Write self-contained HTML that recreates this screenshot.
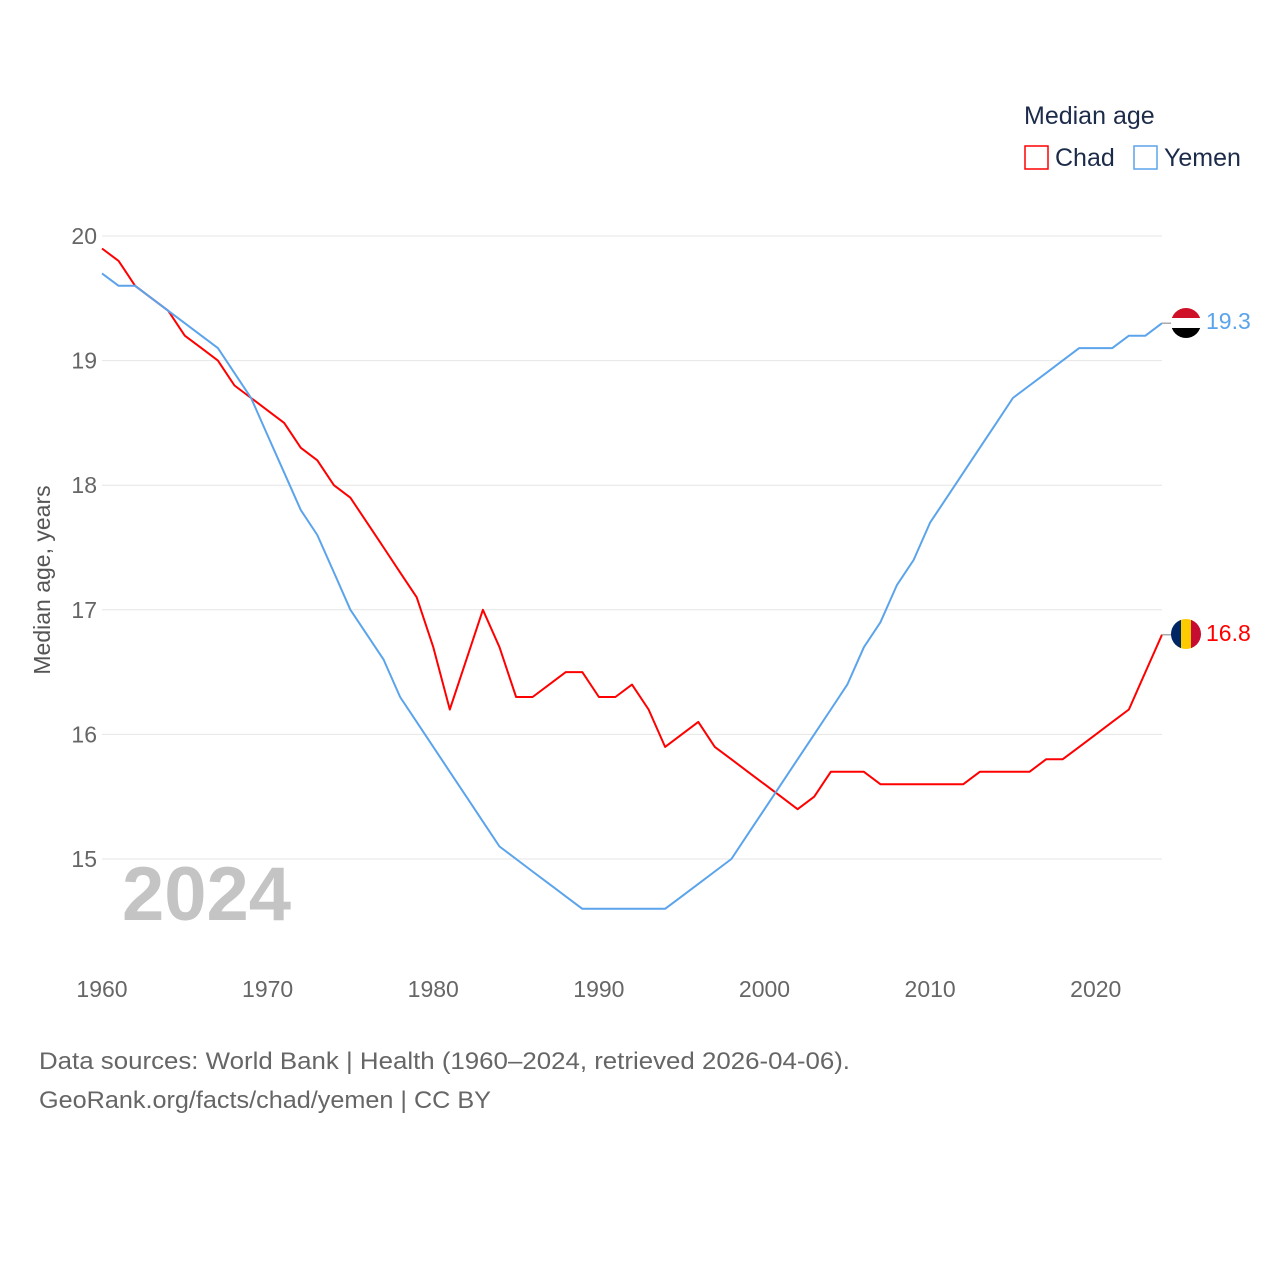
<!DOCTYPE html>
<html><head><meta charset="utf-8"><style>
body{margin:0;background:#fff;font-family:"Liberation Sans",sans-serif}
svg text{font-family:"Liberation Sans",sans-serif}
</style></head><body>
<svg width="1280" height="1280">
<g id="grid"></g>
<g id="axes"></g>
<text x="122" y="920" font-size="76" font-weight="bold" fill="#c4c4c4">2024</text>
<text transform="translate(50,580) rotate(-90)" text-anchor="middle" font-size="23" fill="#555">Median age, years</text>
<g id="lines"></g>
<g>
<text x="1024" y="124" font-size="25" fill="#1d2b4a">Median age</text>
<g><rect x="1025" y="146" width="23" height="23" fill="none" stroke="#f00" stroke-width="1.5"/><text x="1055" y="166" font-size="25" fill="#1d2b4a">Chad</text></g>
<g><rect x="1134" y="146" width="23" height="23" fill="none" stroke="#5ba4ec" stroke-width="1.5"/><text x="1164" y="166" font-size="25" fill="#1d2b4a">Yemen</text></g>
</g>
<defs>
<clipPath id="c1"><circle cx="1186" cy="323" r="15"/></clipPath>
<clipPath id="c2"><circle cx="1186" cy="634" r="15"/></clipPath>
</defs>
<g clip-path="url(#c1)"><rect x="1171" y="308" width="30" height="10" fill="#ce1126"/><rect x="1171" y="318" width="30" height="10" fill="#fff"/><rect x="1171" y="328" width="30" height="10" fill="#000"/></g>
<g clip-path="url(#c2)"><rect x="1171" y="619" width="10" height="30" fill="#002664"/><rect x="1181" y="619" width="10" height="30" fill="#fecb00"/><rect x="1191" y="619" width="10" height="30" fill="#c60c30"/></g>
<text x="1206" y="329" font-size="23" fill="#5ba4ec">19.3</text>
<text x="1206" y="641" font-size="23" fill="#f00">16.8</text>
<text x="39" y="1069" font-size="24" fill="#666" textLength="811" lengthAdjust="spacingAndGlyphs">Data sources: World Bank | Health (1960–2024, retrieved 2026-04-06).</text>
<text x="39" y="1108" font-size="24" fill="#666" textLength="452" lengthAdjust="spacingAndGlyphs">GeoRank.org/facts/chad/yemen | CC BY</text>
</svg>
<script>
const years=[];for(let y=1960;y<=2024;y++)years.push(y);
const chad=[19.9,19.8,19.6,19.5,19.4,19.2,19.1,19.0,18.8,18.7,18.6,18.5,18.3,18.2,18.0,17.9,17.7,17.5,17.3,17.1,16.7,16.2,16.6,17.0,16.7,16.3,16.3,16.4,16.5,16.5,16.3,16.3,16.4,16.2,15.9,16.0,16.1,15.9,15.8,15.7,15.6,15.5,15.4,15.5,15.7,15.7,15.7,15.6,15.6,15.6,15.6,15.6,15.6,15.7,15.7,15.7,15.7,15.8,15.8,15.9,16.0,16.1,16.2,16.5,16.8];
const yemen=[19.7,19.6,19.6,19.5,19.4,19.3,19.2,19.1,18.9,18.7,18.4,18.1,17.8,17.6,17.3,17.0,16.8,16.6,16.3,16.1,15.9,15.7,15.5,15.3,15.1,15.0,14.9,14.8,14.7,14.6,14.6,14.6,14.6,14.6,14.6,14.7,14.8,14.9,15.0,15.2,15.4,15.6,15.8,16.0,16.2,16.4,16.7,16.9,17.2,17.4,17.7,17.9,18.1,18.3,18.5,18.7,18.8,18.9,19.0,19.1,19.1,19.1,19.2,19.2,19.3];
const yTicks=[15,16,17,18,19,20];
const xTicks=[1960,1970,1980,1990,2000,2010,2020];
const X=y=>102+(y-1960)*(1162-102)/64;
const Y=v=>859-(v-15)*(859-236)/5;
const NS="http://www.w3.org/2000/svg";
function mk(t,a,p){const e=document.createElementNS(NS,t);for(const k in a)e.setAttribute(k,a[k]);p.appendChild(e);return e;}
const grid=document.getElementById('grid'),axes=document.getElementById('axes'),lines=document.getElementById('lines');
yTicks.forEach(v=>{
const l=mk('line',{x1:102,x2:1162,y1:Y(v),y2:Y(v),stroke:'#e6e6e6','stroke-width':1},grid);


const t=mk('text',{x:97,y:Y(v)+8,'text-anchor':'end','font-size':23,fill:'#666'},axes);t.textContent=v;


});
xTicks.forEach(y=>{
const t=mk('text',{x:X(y),y:997,'text-anchor':'middle','font-size':23,fill:'#666'},axes);t.textContent=y;


});
function line(d,c,n){
const p=mk('path',{d:d.map((v,i)=>(i?'L':'M')+X(years[i]).toFixed(1)+','+Y(v).toFixed(1)).join(''),fill:'none',stroke:c,'stroke-width':2,'stroke-linejoin':'round'},lines);


const last=d[d.length-1];
const s=mk('line',{x1:X(2024),x2:1172,y1:Y(last),y2:Y(last),stroke:'#aaa','stroke-width':1.5},lines);


}
line(chad,'#ff0000','chad-line');
line(yemen,'#5ba4ec','yemen-line');
</script>
</body></html>
